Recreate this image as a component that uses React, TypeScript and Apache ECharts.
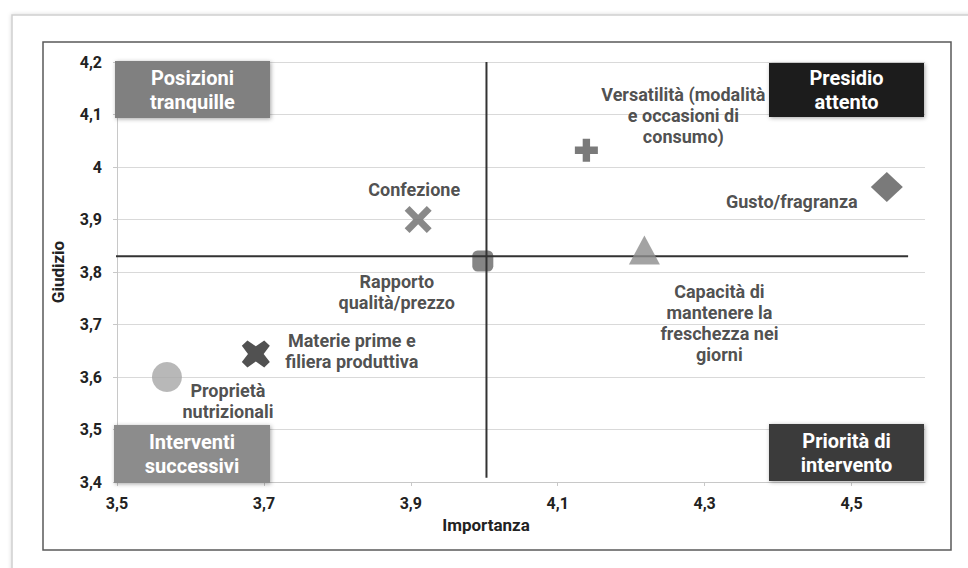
import React, { useEffect, useRef } from "react";
import * as echarts from "echarts";

// ---- data ----
const categories = [
  "Proprietà nutrizionali",
  "Materie prime e filiera produttiva",
  "Confezione",
  "Rapporto qualità/prezzo",
  "Capacità di mantenere la freschezza nei giorni",
  "Versatilità (modalità e occasioni di consumo)",
  "Gusto/fragranza",
];
const labelLines = [
  "Proprietà\nnutrizionali",
  "Materie prime e\nfiliera produttiva",
  "Confezione",
  "Rapporto\nqualità/prezzo",
  "Capacità di\nmantenere la\nfreschezza nei\ngiorni",
  "Versatilità (modalità\ne occasioni di\nconsumo)",
  "Gusto/fragranza",
];
const importanza = [3.568, 3.689, 3.91, 3.998, 4.218, 4.139, 4.548];
const giudizio = [3.6, 3.644, 3.9, 3.821, 3.842, 4.032, 3.962];

const refImportanza = 4.003;
const refGiudizio = 3.83;
const hLineX = [3.495, 4.577];
const vLineY = [3.408, 4.2];

const xMin = 3.5, xMax = 4.6, xStep = 0.2;
const yMin = 3.4, yMax = 4.2, yStep = 0.1;

const quadrantLabels = [
  "Posizioni\ntranquille",
  "Presidio\nattento",
  "Interventi\nsuccessivi",
  "Priorità di\nintervento",
];

// ---- styles ----
const X_THIN = "path://M0,18 L18,0 L50,32 L82,0 L100,18 L68,50 L100,82 L82,100 L50,68 L18,100 L0,82 L32,50 Z";
const X_FAT = "path://M0,20 L20,0 L50,22 L80,0 L100,20 L78,50 L100,80 L80,100 L50,78 L20,100 L0,80 L22,50 Z";
const PLUS = "path://M34,0 L66,0 L66,34 L100,34 L100,66 L66,66 L66,100 L34,100 L34,66 L0,66 L0,34 L34,34 Z";

const markerStyles = [
  { symbol: "circle", size: 30, color: "#a6a6a6", offset: [61, 24], z: 3 },
  { symbol: X_FAT, size: [28, 27], color: "#262626", offset: [96, -3], z: 3 },
  { symbol: X_THIN, size: 27, color: "#6b6b6b", offset: [-4, -30], z: 3 },
  { symbol: "roundRect", size: 21, color: "#666666", offset: [-86, 31], z: 1 },
  { symbol: "triangle", size: [31, 29], color: "#8c8c8c", offset: [75, 73], z: 3 },
  { symbol: PLUS, size: 23, color: "#595959", offset: [97, -35], z: 3 },
  { symbol: "diamond", size: [32, 30], color: "#595959", offset: [-95, 15], z: 3 },
];

const quadrantBoxes = [
  { x: 115, y: 61, w: 155, h: 57, fill: "#808080" },
  { x: 769, y: 63, w: 155, h: 54, fill: "#1f1f1f" },
  { x: 114, y: 425, w: 156, h: 58, fill: "#8c8c8c" },
  { x: 769, y: 424, w: 155, h: 57, fill: "#3a3a3a" },
];

const FONT = "Roboto, 'Noto Sans', sans-serif";
const TEXT_COLOR = "#222222";
const fmt = (v: number) => String(+v.toFixed(2)).replace(".", ",");

export default function App() {
  const ref = useRef<HTMLDivElement>(null);

  useEffect(() => {
    if (!ref.current) return;
    const chart = echarts.init(ref.current, null, { renderer: "svg" });

    const scatterSeries = categories.map((name, i) => {
      const st = markerStyles[i];
      return {
        name,
        type: "scatter",
        z: st.z,
        symbol: st.symbol,
        symbolSize: st.size,
        itemStyle: { color: st.color },
        data: [[importanza[i], giudizio[i]]],
        label: {
          show: true,
          position: "inside",
          offset: st.offset,
          formatter: labelLines[i],
          align: "center",
          verticalAlign: "middle",
          color: TEXT_COLOR,
          fontFamily: FONT,
          fontWeight: "bold",
          fontSize: 18,
          lineHeight: 21,
        },
      };
    });

    const graphics: any[] = [
      {
        type: "rect",
        shape: { x: 12, y: 15, width: 980, height: 600 },
        style: {
          fill: "#ffffff",
          stroke: "#d0d0d0",
          lineWidth: 1.5,
          shadowBlur: 4,
          shadowColor: "rgba(0,0,0,0.15)",
        },
        z: -10,
        silent: true,
      },
      {
        type: "rect",
        shape: { x: 43, y: 42, width: 908, height: 508 },
        style: { fill: "none", stroke: "#5a5a5a", lineWidth: 1.5 },
        z: -9,
        silent: true,
      },
    ];
    quadrantBoxes.forEach((b, i) => {
      graphics.push({
        type: "rect",
        shape: { x: b.x, y: b.y, width: b.w, height: b.h },
        style: {
          fill: b.fill,
          shadowBlur: 4,
          shadowOffsetX: 1,
          shadowOffsetY: 1,
          shadowColor: "rgba(0,0,0,0.35)",
        },
        z: 10,
        silent: true,
      });
      graphics.push({
        type: "text",
        x: b.x + b.w / 2,
        y: b.y + b.h / 2,
        style: {
          text: quadrantLabels[i],
          fill: "#ffffff",
          font: `bold 20px ${FONT}`,
          lineHeight: 24,
          align: "center",
          verticalAlign: "middle",
        },
        z: 11,
        silent: true,
      });
    });

    chart.setOption({
      animation: false,
      backgroundColor: "#ffffff",
      textStyle: { fontFamily: FONT },
      grid: { left: 117, right: 43, top: 62, bottom: 86 },
      xAxis: {
        type: "value",
        min: xMin,
        max: xMax,
        interval: xStep,
        name: "Importanza",
        nameLocation: "middle",
        nameGap: 34,
        nameTextStyle: {
          color: TEXT_COLOR,
          fontWeight: "bold",
          fontSize: 17,
          fontFamily: FONT,
          padding: [0, 70, 0, 0],
        },
        axisLine: { show: true, lineStyle: { color: "#c8c8c8", width: 1 } },
        axisTick: { show: true, length: 4, lineStyle: { color: "#c8c8c8" } },
        splitLine: { show: false },
        axisLabel: {
          showMaxLabel: false,
          formatter: (v: number) => fmt(v),
          color: TEXT_COLOR,
          fontWeight: "bold",
          fontSize: 16,
          margin: 13,
        },
      },
      yAxis: {
        type: "value",
        min: yMin,
        max: yMax,
        interval: yStep,
        name: "Giudizio",
        nameLocation: "middle",
        nameRotate: 90,
        nameGap: 51,
        nameTextStyle: {
          color: TEXT_COLOR,
          fontWeight: "bold",
          fontSize: 17,
          fontFamily: FONT,
        },
        axisLine: { show: true, lineStyle: { color: "#c8c8c8", width: 1 } },
        axisTick: { show: true, length: 4, lineStyle: { color: "#c8c8c8" } },
        splitLine: { show: true, lineStyle: { color: "#d9d9d9", width: 1 } },
        axisLabel: {
          formatter: (v: number) => fmt(v),
          color: TEXT_COLOR,
          fontWeight: "bold",
          fontSize: 16,
          margin: 15,
        },
      },
      graphic: graphics,
      series: [
        {
          name: "Media giudizio",
          type: "line",
          z: 2,
          clip: false,
          showSymbol: false,
          symbol: "none",
          silent: true,
          lineStyle: { color: "#333333", width: 2 },
          data: [
            [hLineX[0], refGiudizio],
            [hLineX[1], refGiudizio],
          ],
        },
        {
          name: "Media importanza",
          type: "line",
          z: 2,
          clip: false,
          showSymbol: false,
          symbol: "none",
          silent: true,
          lineStyle: { color: "#333333", width: 2 },
          data: [
            [refImportanza, vLineY[0]],
            [refImportanza, vLineY[1]],
          ],
        },
        ...scatterSeries,
      ],
    } as any);

    return () => chart.dispose();
  }, []);

  return (
    <div
      ref={ref}
      style={{ position: "absolute", left: 0, top: 0, width: 968, height: 568 }}
    />
  );
}
